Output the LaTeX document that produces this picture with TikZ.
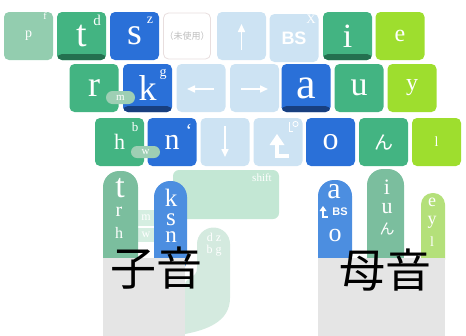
\documentclass[tikz,border=0pt]{standalone}
\usepackage{fontspec}
\setmainfont{Liberation Serif}
\newfontfamily\sansf{Liberation Sans}
\newfontfamily\cjk{Noto Sans CJK JP}
\usetikzlibrary{arrows.meta}
\definecolor{palegrn}{HTML}{93CDAF}
\definecolor{grn}{HTML}{43B482}
\definecolor{dgrn}{HTML}{24704F}
\definecolor{blu}{HTML}{2A70D8}
\definecolor{dblu}{HTML}{183F7F}
\definecolor{lblu}{HTML}{CDE3F3}
\definecolor{lime}{HTML}{9EDE2E}
\definecolor{pill}{HTML}{9ECFB4}
\definecolor{fgrn}{HTML}{7BBE9E}
\definecolor{fblu}{HTML}{4C8EE0}
\definecolor{flime}{HTML}{B4E07A}
\definecolor{shiftc}{HTML}{C3E7D4}
\definecolor{barc}{HTML}{D5EEE1}
\definecolor{dzc}{HTML}{D4EADF}
\definecolor{palmc}{HTML}{E5E5E5}
\newcommand{\myfs}[1]{\fontsize{#1}{#1}\selectfont}
\tikzset{
  key/.style={rectangle, rounded corners=5pt, minimum width=49pt, minimum height=48pt, inner sep=0pt, text=white},
  strip/.style={path picture={\fill[#1] ([yshift=6pt]path picture bounding box.south west) rectangle (path picture bounding box.south east);}},
  sup/.style={inner sep=0pt, text=white},
  lbl/.style={inner sep=0pt, text=white},
  finger/.style={rectangle, rounded corners=16pt, inner sep=0pt},
  palm/.style={rectangle, fill=palmc, inner sep=0pt},
  arr/.style={white, line width=1.6pt, -{Triangle[width=7pt,length=8pt]}},
}
\begin{document}
\begin{tikzpicture}[x=1pt,y=-1pt]
\useasboundingbox (0,0) rectangle (466,335);
% ---------- row 1
\node[key, fill=palegrn, font=\myfs{14}] (kp) at (28.5,36) {p};
\node[sup, font=\myfs{10}] (sf) at (45,16) {f};
\node[key, fill=grn, strip=dgrn, font=\myfs{38}] (kt) at (81.5,36) {t};
\node[sup, font=\myfs{15}] (sd) at (97,20) {d};
\node[key, fill=blu, font=\myfs{38}] (ks) at (134.5,36) {s};
\node[sup, font=\myfs{14}] (sz) at (150,20) {z};
\node[key, fill=white, draw={rgb,255:red,232;green,222;blue,222}, line width=0.8pt, minimum width=47pt, minimum height=46pt, text={rgb,255:red,190;green,190;blue,190}, font=\cjk\myfs{9}] (kun) at (187,36) {（未使用）};
\node[key, fill=lblu] (kup) at (241.5,36) {};
\node[key, fill=lblu, font=\sansf\bfseries\myfs{18}] (kbs) at (294,38) {BS};
\node[sup, font=\myfs{13}] (sx) at (311,19) {X};
\node[key, fill=grn, strip=dgrn, font=\myfs{34}] (ki) at (347.5,36) {i};
\node[key, fill=lime, font=\myfs{24}] (ke) at (400,36) {e};
% ---------- row 2
\node[key, fill=grn, font=\myfs{36}] (kr) at (94,88) {r};
\node[key, fill=blu, strip=dblu, font=\myfs{36}] (kk) at (147.5,88) {k};
\node[sup, font=\myfs{14}] (sg) at (163,74) {g};
\node[rectangle, rounded corners=6.5pt, fill=pill, minimum width=29pt, minimum height=13pt, inner sep=0pt, text=white, font=\myfs{11}] (pm) at (120.5,97.5) {m};
\node[key, fill=lblu] (kl) at (201,88) {};
\node[key, fill=lblu] (kri) at (254.5,88) {};
\node[key, fill=blu, strip=dblu, font=\myfs{44}] (ka) at (306,88) {a};
\node[key, fill=grn, font=\myfs{34}] (ku) at (359,88) {u};
\node[key, fill=lime, font=\myfs{24}] (ky) at (412,88) {y};
% ---------- row 3
\node[key, fill=grn, font=\myfs{22}] (kh) at (119.5,142) {h};
\node[sup, font=\myfs{13}] (sb) at (135,127) {b};
\node[key, fill=blu, font=\myfs{30}] (kn) at (172,142) {n};
\node[sup, font=\myfs{20}] (sgr) at (189,131) {\char"60};
\node[rectangle, rounded corners=6pt, fill=pill, minimum width=29pt, minimum height=12pt, inner sep=0pt, text=white, font=\myfs{11}] (pw) at (145.5,152) {w};
\node[key, fill=lblu] (kdn) at (225,142) {};
\node[key, fill=lblu] (kret) at (278,142) {};
\node[key, fill=blu, font=\myfs{32}] (ko) at (330.5,142) {o};
\node[key, fill=grn, font=\cjk\myfs{19}] (knn) at (383.5,142) {ん};
\node[key, fill=lime, font=\myfs{14}] (kll) at (436.5,142) {l};
% arrows on light keys
\coordinate (upA) at (241.5,50); \coordinate (upB) at (241.5,24);
\draw[arr] (upA) -- (upB);
\coordinate (lA) at (214,89); \coordinate (lB) at (187,89);
\draw[arr] (lA) -- (lB);
\coordinate (rA) at (241,89); \coordinate (rB) at (268,89);
\draw[arr] (rA) -- (rB);
\coordinate (dA) at (225,126); \coordinate (dB) at (225,157);
\draw[arr] (dA) -- (dB);
% return icon
\fill[white] (269.5,145) -- (277,134) -- (284.5,145) -- cycle;
\draw[white, line width=4.5pt] (277,144) -- (277,156) -- (289,156);
\draw[white, line width=0.9pt] (289,122) -- (289,131) -- (293,131);
\draw[white, line width=0.8pt] (295.5,124) circle[radius=2.6];
% ---------- left hand
\node[rectangle, rounded corners=6pt, fill=shiftc, minimum width=106pt, minimum height=49pt, inner sep=0pt] (shift) at (226,194.5) {};
\node[lbl, font=\myfs{11}] (tshift) at (262,178) {shift};
\fill[dzc] (185,334) -- (185,285) .. controls (185,277) and (197,279) .. (197,268) -- (197,244) arc[start angle=180, end angle=360, radius=16.5] -- (230,298) .. controls (230,322) and (206,330) .. (185,334) -- cycle;
\node[lbl, font=\myfs{12}] (tdz) at (214,237) {d z};
\node[lbl, font=\myfs{12}] (tbg) at (214,251) {b g};
\node[rectangle, fill=barc, minimum width=17pt, minimum height=16pt, inner sep=0pt, text=white, font=\myfs{12}] (bm) at (146,217.5) {m};
\node[rectangle, fill=barc, minimum width=17pt, minimum height=14pt, inner sep=0pt, text=white, font=\myfs{12}] (bw) at (146,235) {w};
\node[finger, fill=fgrn, minimum width=35pt, minimum height=104pt] (ft) at (120.5,223) {};
\node[finger, fill=fblu, minimum width=33pt, minimum height=94pt] (fk) at (170.5,228) {};
\node[palm, minimum width=82pt, minimum height=78pt] (lpalm) at (144,297) {};
\node[lbl, font=\myfs{34}] (ftt) at (120,188) {t};
\node[lbl, font=\myfs{20}] (ftr) at (119,212) {r};
\node[lbl, font=\myfs{16}] (fth) at (119,233) {h};
\node[lbl, font=\myfs{25}] (fkk) at (171,198) {k};
\node[lbl, font=\myfs{25}] (fks) at (171,220) {s};
\node[lbl, font=\myfs{23}] (fkn) at (171,237) {n};
% ---------- right hand
\node[finger, fill=fblu, minimum width=34pt, minimum height=92pt] (fa) at (335,226) {};
\node[finger, fill=fgrn, minimum width=37pt, minimum height=103pt] (fi) at (385.5,220.5) {};
\node[finger, fill=flime, minimum width=24pt, minimum height=78pt, rounded corners=11.5pt] (fe) at (433,232) {};
\node[palm, minimum width=127pt, minimum height=78pt] (rpalm) at (381.5,297) {};
\node[lbl, font=\myfs{30}] (faa) at (334,192) {a};
\fill[white] (319.5,211) -- (323,206) -- (326.5,211) -- cycle;
\draw[white, line width=2pt] (323,210) -- (323,217) -- (328,217);
\node[lbl, font=\sansf\bfseries\myfs{11}] (fabs) at (340,212) {BS};
\node[lbl, font=\myfs{26}] (fao) at (335,235) {o};
\node[lbl, font=\myfs{22}] (fii) at (387,187) {i};
\node[lbl, font=\myfs{22}] (fiu) at (387,209) {u};
\node[lbl, font=\cjk\myfs{15}] (fin) at (387,229) {ん};
\node[lbl, font=\myfs{18}] (fee) at (432,202) {e};
\node[lbl, font=\myfs{18}] (fey) at (432,222) {y};
\node[lbl, font=\myfs{14}] (fel) at (432,242) {l};
% ---------- labels
\node[inner sep=0pt, font=\cjk\myfs{46}] (shiin) at (156,268) {子音};
\node[inner sep=0pt, font=\cjk\myfs{46}] (boin) at (385,270) {母音};
\end{tikzpicture}
\end{document}
